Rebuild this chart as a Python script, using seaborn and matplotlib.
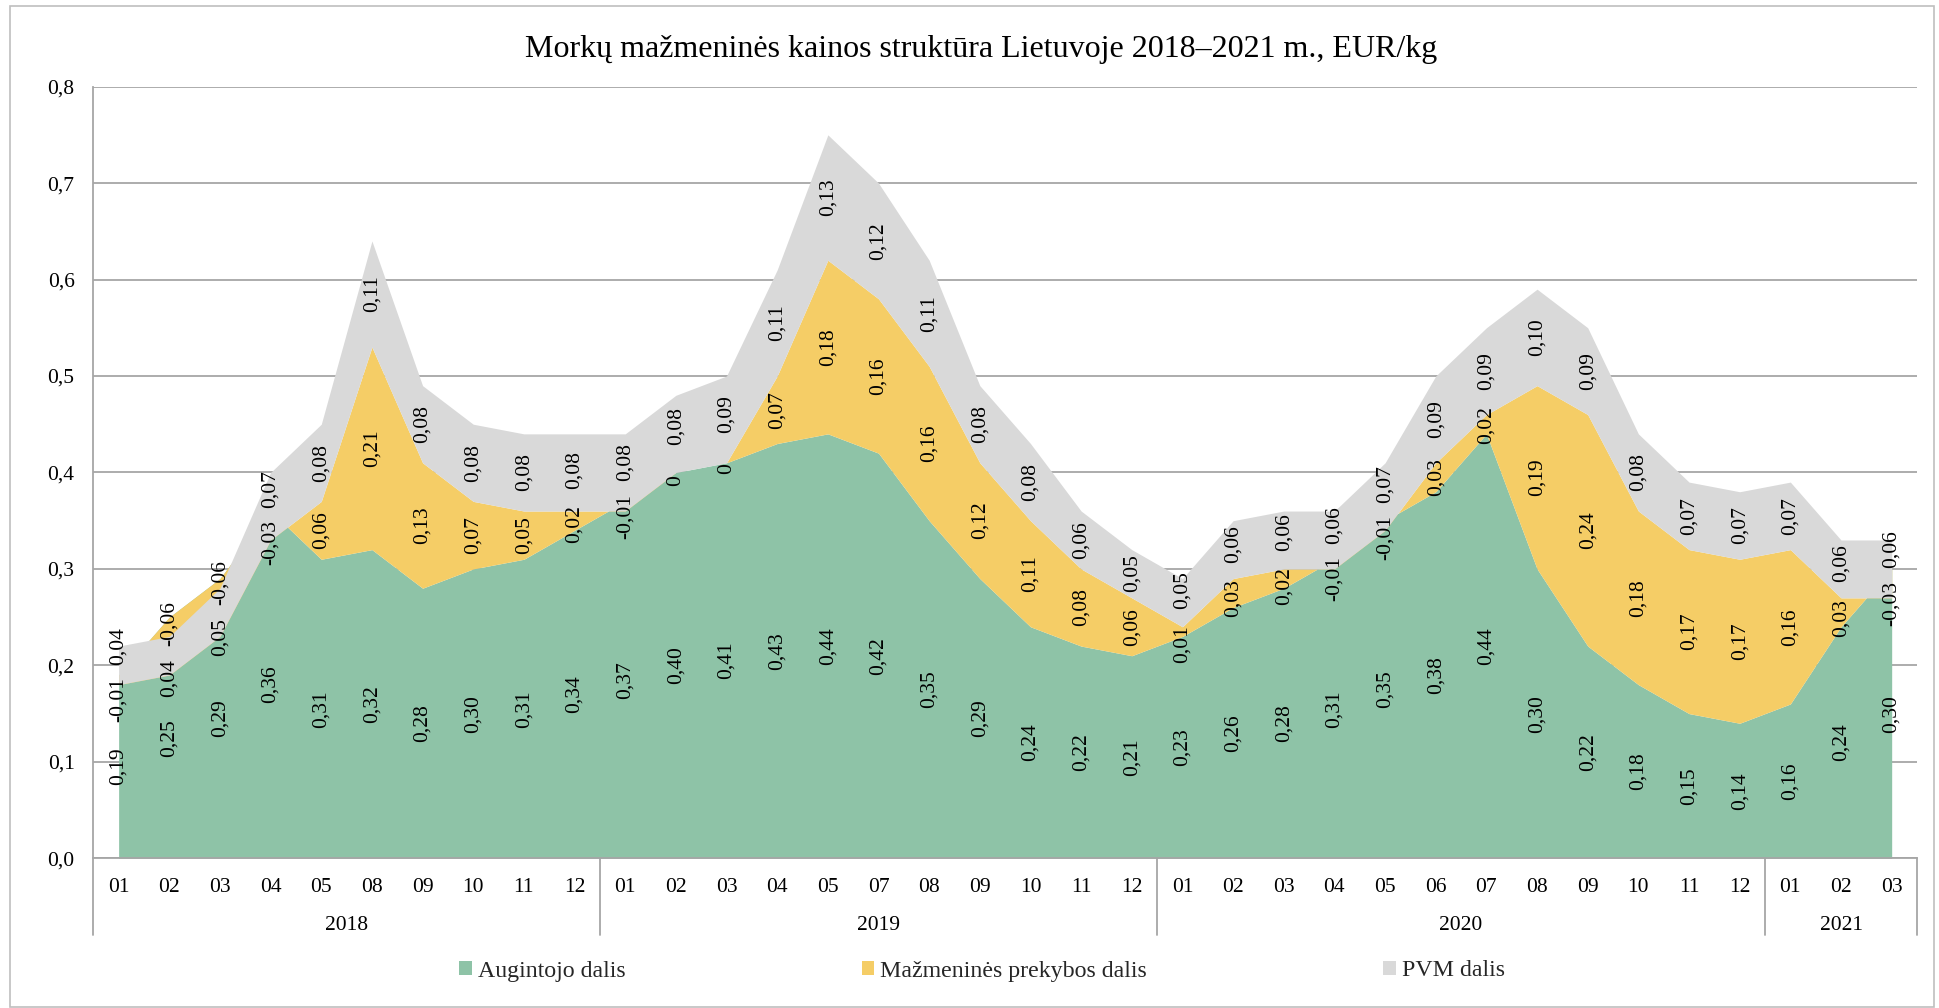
import numpy as np
import pandas as pd
import matplotlib
matplotlib.use("Agg")
import matplotlib.pyplot as plt
from matplotlib.patches import Patch, Rectangle
import seaborn as sns

# ---------------- data ----------------
months = ["01", "02", "03", "04", "05", "08", "09", "10", "11", "12",
          "01", "02", "03", "04", "05", "07", "08", "09", "10", "11", "12",
          "01", "02", "03", "04", "05", "06", "07", "08", "09", "10", "11", "12",
          "01", "02", "03"]
years = ["2018", "2019", "2020", "2021"]
year_counts = [10, 11, 12, 3]

augintojo = [0.19, 0.25, 0.29, 0.36, 0.31, 0.32, 0.28, 0.30, 0.31, 0.34,
             0.37, 0.40, 0.41, 0.43, 0.44, 0.42, 0.35, 0.29, 0.24, 0.22, 0.21,
             0.23, 0.26, 0.28, 0.31, 0.35, 0.38, 0.44, 0.30, 0.22, 0.18, 0.15, 0.14,
             0.16, 0.24, 0.30]
mazmenine = [-0.01, -0.06, -0.06, -0.03, 0.06, 0.21, 0.13, 0.07, 0.05, 0.02,
             -0.01, 0.00, 0.00, 0.07, 0.18, 0.16, 0.16, 0.12, 0.11, 0.08, 0.06,
             0.01, 0.03, 0.02, -0.01, -0.01, 0.03, 0.02, 0.19, 0.24, 0.18, 0.17, 0.17,
             0.16, 0.03, -0.03]
pvm = [0.04, 0.04, 0.05, 0.07, 0.08, 0.11, 0.08, 0.08, 0.08, 0.08,
       0.08, 0.08, 0.09, 0.11, 0.13, 0.12, 0.11, 0.08, 0.08, 0.06, 0.05,
       0.05, 0.06, 0.06, 0.06, 0.07, 0.09, 0.09, 0.10, 0.09, 0.08, 0.07, 0.07,
       0.07, 0.06, 0.06]

series_names = ["Augintojo dalis", "Mažmeninės prekybos dalis", "PVM dalis"]
colors = ["#8EC3A7", "#F5CD66", "#D9D9D9"]
title = "Morkų mažmeninės kainos struktūra Lietuvoje 2018–2021 m., EUR/kg"
yticks = [0.0, 0.1, 0.2, 0.3, 0.4, 0.5, 0.6, 0.7, 0.8]

# ---------------- style ----------------
sns.set_theme(style="white")
plt.rcParams["font.family"] = ["Liberation Serif", "DejaVu Serif"]
GRID = "#A6A6A6"

df = pd.DataFrame({"x": np.arange(len(months)), "month": months,
                   "g": augintojo, "y": mazmenine, "p": pvm})
c1 = df["g"].to_numpy()
c2 = c1 + df["y"].to_numpy()
c3 = c2 + df["p"].to_numpy()
x = df["x"].to_numpy()

W, H = 1939, 1008
fig = plt.figure(figsize=(W / 100, H / 100), dpi=100)
ax_l, ax_r, ax_b, ax_t = 93.3, 1917.0, 858.3, 86.6
ax = fig.add_axes([ax_l / W, 1 - ax_b / H, (ax_r - ax_l) / W, (ax_b - ax_t) / H])

ax.fill_between(x, 0, c1, color=colors[0], lw=0, zorder=2)
ax.fill_between(x, c1, c2, color=colors[1], lw=0, zorder=2)
ax.fill_between(x, c2, c3, color=colors[2], lw=0, zorder=2)

ax.set_xlim(-0.5, len(months) - 0.5)
ax.set_ylim(0, 0.8)
ax.set_yticks(yticks)
ax.set_yticklabels([f"{v:.1f}".replace(".", ",") for v in yticks])
ax.set_xticks(x)
ax.set_xticklabels(months)
ax.tick_params(axis="y", length=0, pad=13.5, labelsize=15.5, colors="black")
ax.tick_params(axis="x", length=0, pad=14, labelsize=15.5, colors="black")
ax.yaxis.grid(True, color=GRID, lw=1.3)
ax.xaxis.grid(False)
ax.set_axisbelow(True)
sns.despine(ax=ax, top=True, right=True)
for s in ["left", "bottom"]:
    ax.spines[s].set_color(GRID)
    ax.spines[s].set_linewidth(1.3)
    ax.spines[s].set_zorder(5)


def fmt(v):
    if abs(v) < 1e-9:
        return "0"
    return f"{v:.2f}".replace(".", ",")


# data labels
MIN_GAP = 0.056
for i in range(len(x)):
    g, yy, pp = augintojo[i], mazmenine[i], pvm[i]
    pos_g = g / 2
    pos_y = g + yy / 2
    pos_p = g + yy + pp / 2
    if abs(pos_p - pos_y) < MIN_GAP:
        mid = (pos_p + pos_y) / 2
        sgn = 1 if pos_p >= pos_y else -1
        pos_p = mid + sgn * MIN_GAP / 2
        pos_y = mid - sgn * MIN_GAP / 2
    for val, pos in [(g, pos_g), (yy, pos_y), (pp, pos_p)]:
        ax.text(x[i], pos, fmt(val), rotation=90, ha="center", va="center",
                fontsize=15.5, color="black", zorder=6)

# multi-level category axis: year labels and separators
trans = ax.get_xaxis_transform()
sep_depth = (935.0 - ax_b) / (ax_b - ax_t)
year_y = -(925.0 - ax_b) / (ax_b - ax_t)
start = 0
bounds = [-0.5]
for yr, n in zip(years, year_counts):
    center = start + (n - 1) / 2
    ax.text(center, year_y, yr, transform=trans, ha="center", va="center",
            fontsize=15.5, color="black")
    start += n
    bounds.append(start - 0.5)
for b in bounds:
    ax.plot([b, b], [0, -sep_depth], transform=trans, color=GRID, lw=1.3,
            clip_on=False, zorder=5)

# title
fig.text(981 / W, 1 - 49.5 / H, title, ha="center", va="center", fontsize=23,
         color="black")

# legend
handles = [Patch(facecolor=c, edgecolor="none") for c in colors]
fig.legend(handles, series_names, loc="center", ncol=3, frameon=False,
           bbox_to_anchor=(982 / W, 1 - 971 / H), fontsize=17.2,
           handlelength=0.52, handleheight=0.52, handletextpad=0.25,
           columnspacing=9.9)

# outer chart border
fig.patches.append(Rectangle((10 / W, 1 / H), (1934 - 10) / W, (1002 - 1) / H,
                             transform=fig.transFigure, fill=False,
                             edgecolor="#BFBFBF", lw=1.2))

fig.savefig("out.png", dpi=100)
